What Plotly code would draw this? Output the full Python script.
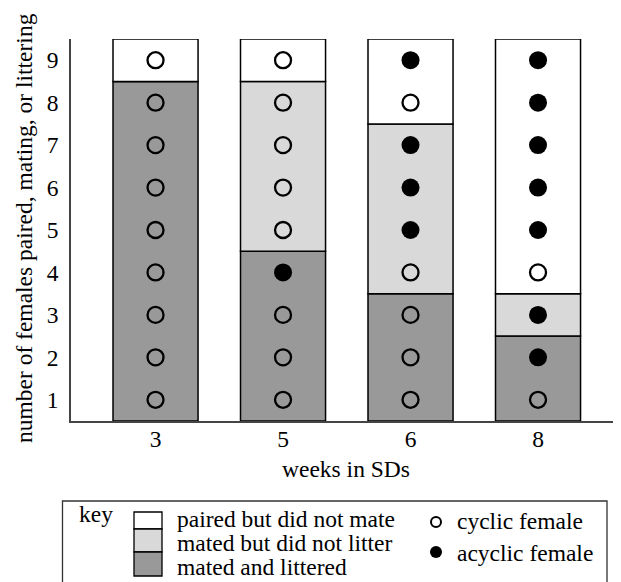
import plotly.graph_objects as go

# ---------------- data ----------------
weeks = ["3", "5", "6", "8"]
mated_littered = [8, 4, 3, 2]
mated_no_litter = [0, 4, 4, 1]
paired_no_mate = [1, 1, 2, 6]
# female status per week, bottom (1) to top (9): c = cyclic, a = acyclic
status_w3 = ["c", "c", "c", "c", "c", "c", "c", "c", "c"]
status_w5 = ["c", "c", "c", "a", "c", "c", "c", "c", "c"]
status_w6 = ["c", "c", "c", "c", "a", "a", "a", "c", "a"]
status_w8 = ["c", "a", "a", "c", "a", "a", "a", "a", "a"]
y_ticks = [1, 2, 3, 4, 5, 6, 7, 8, 9]

key_labels = ["paired but did not mate", "mated but did not litter", "mated and littered"]
marker_labels = ["cyclic female", "acyclic female"]

# ---------------- style ----------------
FONT = "Liberation Serif, Times New Roman, serif"
FS = 23.5
DARK = "#999999"
LIGHT = "#d9d9d9"
WHITE = "#ffffff"
OFF = 8  # page body margin
PAGE_W, PAGE_H = 621, 582
W, H = PAGE_W - OFF, PAGE_H - OFF
# plot area in page pixels
PL, PR, PT, PB = 71, 620, 39, 421
ML, MT = PL - OFF, PT - OFF
MR = W - (PR - OFF)
MB = H - (PB - OFF)
PW, PH = PR - PL, PB - PT


def px(x):
    return (x - PL) / PW


def py(y):
    return (PB - y) / PH


xs = list(range(len(weeks)))
bw = 0.667

fig = go.Figure()
base1 = [0.5] * len(weeks)
base2 = [b + v for b, v in zip(base1, mated_littered)]
base3 = [b + v for b, v in zip(base2, mated_no_litter)]
for vals, base, col in [(mated_littered, base1, DARK),
                        (mated_no_litter, base2, LIGHT),
                        (paired_no_mate, base3, WHITE)]:
    fig.add_trace(go.Bar(x=xs, y=vals, base=base, width=bw,
                         marker=dict(color=col, line=dict(color="black", width=1.5)),
                         showlegend=False, hoverinfo="skip"))

statuses = [status_w3, status_w5, status_w6, status_w8]
cx, cy, ax, ay = [], [], [], []
for i, st in enumerate(statuses):
    for j, s in enumerate(st):
        if s == "c":
            cx.append(i); cy.append(j + 1)
        else:
            ax.append(i); ay.append(j + 1)
fig.add_trace(go.Scatter(x=cx, y=cy, mode="markers", showlegend=False,
                         marker=dict(symbol="circle-open", size=16, color="black",
                                     line=dict(width=2.3, color="black"))))
fig.add_trace(go.Scatter(x=ax, y=ay, mode="markers", showlegend=False,
                         marker=dict(symbol="circle", size=18, color="black",
                                     line=dict(width=0))))

fig.update_layout(
    width=W, height=H, autosize=False,
    margin=dict(l=ML, r=MR, t=MT, b=MB, pad=0),
    paper_bgcolor="white", plot_bgcolor="white",
    barmode="overlay",
    font=dict(family=FONT, size=FS, color="black"),
    xaxis=dict(range=[-0.663, 3.643], tickvals=xs, ticktext=weeks,
               showline=True, linecolor="#444", linewidth=1.5, showgrid=False,
               zeroline=False, ticks="", ticklabelstandoff=-4,
               tickfont=dict(size=FS), fixedrange=True),
    yaxis=dict(range=[0.5, 9.5], tickvals=y_ticks, ticktext=[str(v) for v in y_ticks],
               showline=True, linecolor="#444", linewidth=1.5, showgrid=False,
               zeroline=False, ticks="outside", ticklen=6, tickcolor="rgba(0,0,0,0)",
               tickfont=dict(size=FS), fixedrange=True),
)

ann = []
ann.append(dict(x=px(346), y=py(469), xref="paper", yref="paper", text="weeks in SDs",
                showarrow=False, xanchor="center", yanchor="middle", font=dict(size=FS)))
ann.append(dict(x=px(24), y=py(228), xref="paper", yref="paper",
                text="number of females paired, mating, or littering", textangle=-90,
                showarrow=False, xanchor="center", yanchor="middle", font=dict(size=FS)))
ann.append(dict(x=px(77), y=py(514), xref="paper", yref="paper", text="key",
                showarrow=False, xanchor="left", yanchor="middle", font=dict(size=FS)))
for k, lab in enumerate(key_labels):
    ann.append(dict(x=px(175), y=py(519 + 24 * k), xref="paper", yref="paper", text=lab,
                    showarrow=False, xanchor="left", yanchor="middle", font=dict(size=FS)))
for k, lab in enumerate(marker_labels):
    ann.append(dict(x=px(455), y=py(521 + 32 * k), xref="paper", yref="paper", text=lab,
                    showarrow=False, xanchor="left", yanchor="middle", font=dict(size=FS)))
fig.update_layout(annotations=ann)

shapes = []
shapes.append(dict(type="rect", xref="paper", yref="paper", x0=px(62.5), x1=px(607),
                   y0=py(501), y1=py(590), line=dict(color="#333", width=1.3),
                   fillcolor="rgba(0,0,0,0)"))
for (y0, y1, col) in [(512, 529, WHITE), (529, 552, LIGHT), (552, 576, DARK)]:
    shapes.append(dict(type="rect", xref="paper", yref="paper", x0=px(134), x1=px(162),
                       y0=py(y0), y1=py(y1), line=dict(color="black", width=1.3),
                       fillcolor=col))
shapes.append(dict(type="circle", xref="paper", yref="paper", x0=px(431), x1=px(441),
                   y0=py(517), y1=py(527), line=dict(color="black", width=2),
                   fillcolor="white"))
shapes.append(dict(type="circle", xref="paper", yref="paper", x0=px(430), x1=px(442),
                   y0=py(546), y1=py(558), line=dict(color="black", width=0),
                   fillcolor="black"))
fig.update_layout(shapes=shapes)

fig.write_html("out.html")
